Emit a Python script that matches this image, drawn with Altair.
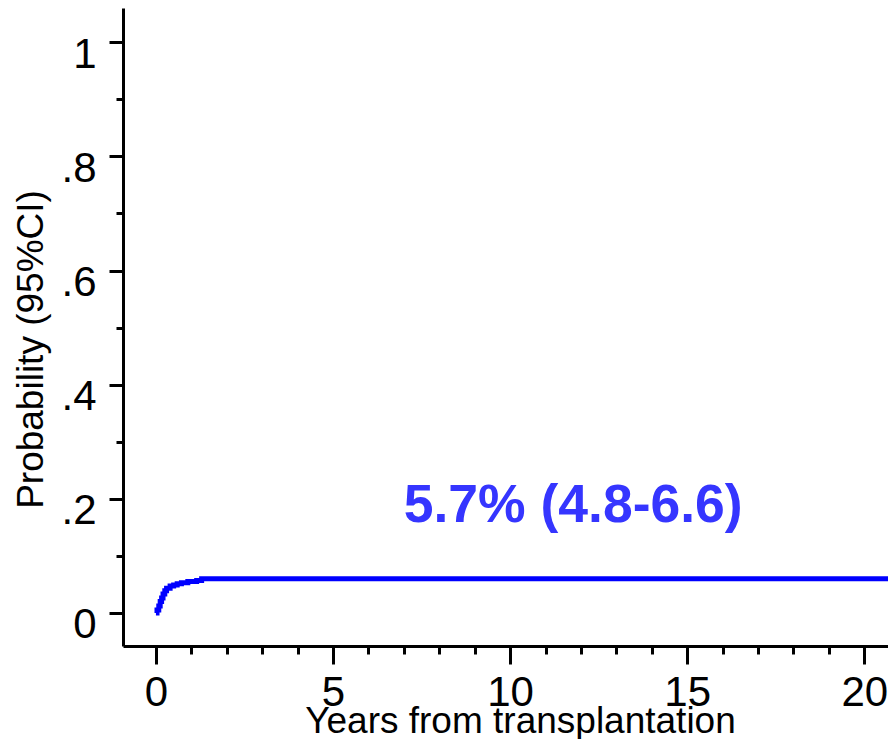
import altair as alt
import pandas as pd

# Cumulative incidence curve
years = [0.0, 0.03, 0.08, 0.12, 0.16, 0.20, 0.25, 0.30, 0.40, 0.50, 0.60, 0.72, 0.90, 1.15, 1.29, 20.9]
prob = [0.0, 0.005, 0.012, 0.020, 0.026, 0.033, 0.039, 0.043, 0.047, 0.049, 0.051, 0.053, 0.055, 0.0566, 0.060, 0.060]

label_text = ["5.7% (4.8-6.6)"]
label_x = [11.78]
label_y = [0.159]

x_ticks = list(range(0, 21))
y_ticks = [0, 0.1, 0.2, 0.3, 0.4, 0.5, 0.6, 0.7, 0.8, 0.9, 1.0]

curve = pd.DataFrame({"t": years, "p": prob})
ann = pd.DataFrame({"x": label_x, "y": label_y, "txt": label_text})

FONT = "Liberation Sans"

x_scale = alt.Scale(domain=[-0.93, 20.67], nice=False, zero=False)
y_scale = alt.Scale(domain=[-0.058, 1.06], nice=False, zero=False)

x_axis = alt.Axis(
    values=x_ticks,
    title="Years from transplantation",
    grid=False,
    labelExpr="datum.value % 5 == 0 ? datum.label : ''",
    labelFont=FONT, labelFontSize=42, labelColor="black",
    labelBaseline="alphabetic", labelPadding=41, labelFlush=False,
    labelOverlap=False, labelBound=False,
    tickSize={"condition": {"test": "datum.value % 5 == 0", "value": 18}, "value": 8},
    tickWidth=3, tickColor="black",
    domainWidth=3, domainColor="black",
    titleFont=FONT, titleFontSize=37, titleFontWeight="normal", titleColor="black",
    titleX=397, titleY=86, titleBaseline="alphabetic", titleAlign="center",
)

y_axis = alt.Axis(
    values=y_ticks,
    title="Probability (95%CI)",
    grid=False,
    labelExpr="round(datum.value*10) % 2 == 0 ? (datum.value == 0 ? '0' : (datum.value == 1 ? '1' : replace(format(datum.value, '.1f'), '0.', '.'))) : ''",
    labelFont=FONT, labelFontSize=42, labelColor="black",
    labelBaseline="alphabetic", labelOffset=25, labelPadding=13, labelFlush=False,
    labelOverlap=False, labelBound=False,
    tickSize={"condition": {"test": "round(datum.value*10) % 2 == 0", "value": 14}, "value": 7},
    tickWidth=3, tickColor="black",
    domainWidth=3, domainColor="black",
    titleFont=FONT, titleFontSize=37, titleFontWeight="normal", titleColor="black",
    titleAngle=270, titleX=-81, titleY=341, titleBaseline="alphabetic", titleAlign="center",
)

line = alt.Chart(curve).mark_line(
    interpolate="step-after", color="#0000ff", strokeWidth=5, clip=True
).encode(
    x=alt.X("t:Q", scale=x_scale, axis=x_axis),
    y=alt.Y("p:Q", scale=y_scale, axis=y_axis),
)

text = alt.Chart(ann).mark_text(
    font=FONT, fontSize=53.5, fontWeight="bold", color="#3535ff",
    align="center", baseline="alphabetic",
).encode(
    x=alt.X("x:Q", scale=x_scale, axis=x_axis),
    y=alt.Y("y:Q", scale=y_scale, axis=y_axis),
    text="txt:N",
)

chart = alt.layer(line, text).properties(
    width=765, height=638,
    autosize=alt.AutoSizeParams(type="none"),
    padding={"left": 115, "top": 0, "right": 0, "bottom": 93},
    background="white",
).configure_view(stroke=None)

chart.save("out.html", embed_options={"renderer": "svg", "actions": False})
